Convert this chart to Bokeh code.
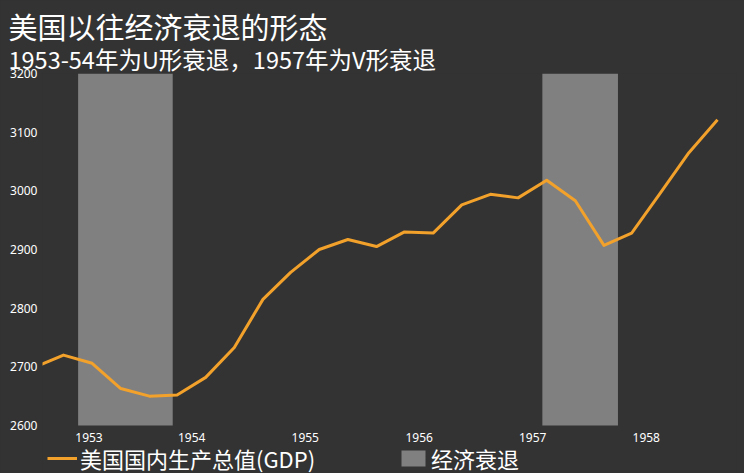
import pandas as pd
from bokeh.plotting import figure
from bokeh.models import (Title, Range1d, FixedTicker, Legend, LegendItem,
                          ColumnDataSource, DatetimeTickFormatter)
from bokeh.embed import file_html
from bokeh.resources import INLINE

# ---------------- data ----------------
title_text = "美国以往经济衰退的形态"
subtitle_text = "1953-54年为U形衰退，1957年为V形衰退"
series_gdp = "美国国内生产总值(GDP)"
series_recession = "经济衰退"

quarters = ["1953Q1", "1953Q2", "1953Q3", "1953Q4",
            "1954Q1", "1954Q2", "1954Q3", "1954Q4",
            "1955Q1", "1955Q2", "1955Q3", "1955Q4",
            "1956Q1", "1956Q2", "1956Q3", "1956Q4",
            "1957Q1", "1957Q2", "1957Q3", "1957Q4",
            "1958Q1", "1958Q2", "1958Q3", "1958Q4",
            "1959Q1"]
gdp = [2700, 2720, 2706, 2663,
       2650, 2652, 2682, 2733,
       2815, 2861, 2900, 2917,
       2905, 2930, 2928, 2976,
       2994, 2988, 3018, 2983,
       2907, 2928, 2996, 3065,
       3121]

recession_start = ["1953-07-01", "1957-08-01"]
recession_end = ["1954-05-01", "1958-04-01"]

x_tick_dates = ["1953-08-05", "1954-07-01", "1955-07-01",
                "1956-07-01", "1957-07-01", "1958-07-01"]
y_ticks = [2600, 2700, 2800, 2900, 3000, 3100, 3200]

# ---------------- layout / styling ----------------
W, H = 744, 473
TOP, LEFT, RIGHT = 73, 42, 8       # frame edges (px)
AXIS_Y_PX = 425                    # pixel row of the value axis minimum
BG = "#333333"
LINE_COLOR = "#F2A12B"
BAND_COLOR = "#808080"
CJK = "Noto Sans CJK SC"
NUM = "Noto Sans"

# quarter mid-points (about the 15th of the middle month)
q_dates = [pd.Period(q, "Q").start_time + pd.DateOffset(months=1, days=14)
           for q in quarters]
line_src = ColumnDataSource(dict(date=q_dates, gdp=gdp))

band_src = ColumnDataSource(dict(
    left=pd.to_datetime(recession_start),
    right=pd.to_datetime(recession_end),
    bottom=[y_ticks[0]] * len(recession_start),
    top=[y_ticks[-1]] * len(recession_start),
))

x_start = pd.Timestamp("1953-03-08 12:00")
x_end = pd.Timestamp("1959-04-17")

# the frame reaches the bottom of the canvas; the value span
# 2600..3200 occupies rows TOP..AXIS_Y_PX, the rest holds axis labels + legend
units_per_px = (y_ticks[-1] - y_ticks[0]) / (AXIS_Y_PX - TOP)
y_start = y_ticks[0] - (H - AXIS_Y_PX) * units_per_px

p = figure(width=W, height=H, title=None,
           x_axis_type="datetime",
           x_range=Range1d(x_start, x_end),
           y_range=Range1d(y_start, y_ticks[-1]),
           output_backend="svg", toolbar_location=None,
           background_fill_color=BG, border_fill_color=BG,
           min_border_left=LEFT, min_border_right=RIGHT,
           min_border_top=TOP, min_border_bottom=0)
p.outline_line_color = BG
p.outline_line_alpha = 0

bands = p.quad(left="left", right="right", bottom="bottom", top="top",
               source=band_src, fill_color=BAND_COLOR, line_color=None)
line = p.line(x="date", y="gdp", source=line_src, line_color=LINE_COLOR,
              line_width=3, line_join="round")

p.xgrid.visible = False
p.ygrid.visible = False

for ax in (p.xaxis[0], p.yaxis[0]):
    ax.axis_line_color = None
    ax.major_tick_line_color = None
    ax.minor_tick_line_color = None
    ax.major_tick_out = 0
    ax.major_tick_in = 0
    ax.minor_tick_out = 0
    ax.major_label_text_color = "white"
    ax.major_label_text_font = NUM
    ax.major_label_text_font_size = "12px"

p.yaxis[0].ticker = FixedTicker(ticks=y_ticks)
p.yaxis[0].major_label_standoff = 5
p.xaxis[0].ticker = FixedTicker(
    ticks=[pd.Timestamp(d).value / 1e6 for d in x_tick_dates])
p.xaxis[0].formatter = DatetimeTickFormatter(
    years="%Y", months="%Y", days="%Y", hours="%Y", minutes="%Y",
    seconds="%Y", milliseconds="%Y", microseconds="%Y", hourmin="%Y",
    minsec="%Y")
p.xaxis[0].major_label_standoff = 7
p.xaxis[0].fixed_location = y_ticks[0]

# titles: subtitle nearest the frame, main title above it
sub = Title(text=subtitle_text, text_font=CJK, text_font_size="23.5px",
            text_font_style="normal", text_color="white", align="left",
            offset=-34, standoff=-4)
main = Title(text=title_text, text_font=CJK, text_font_size="29px",
             text_font_style="normal", text_color="white", align="left",
             offset=-34, standoff=-11)
p.add_layout(sub, "above")
p.add_layout(main, "above")

legend = Legend(items=[LegendItem(label=series_gdp, renderers=[line]),
                       LegendItem(label=series_recession, renderers=[bands])],
                location=(5, -1), orientation="horizontal",
                background_fill_alpha=0, border_line_color=BG,
                border_line_alpha=0,
                label_text_color="white", label_text_font=CJK,
                label_text_font_size="22px", glyph_width=30,
                glyph_height=20, label_standoff=3, spacing=83,
                padding=0, margin=0)
p.add_layout(legend)

html = file_html(p, INLINE)
# dark page behind the canvas so that no light hairlines show between layers
html = html.replace("<head>", "<head><style>html,body{background:#333333;}</style>", 1)
open("out.html", "w").write(html)
